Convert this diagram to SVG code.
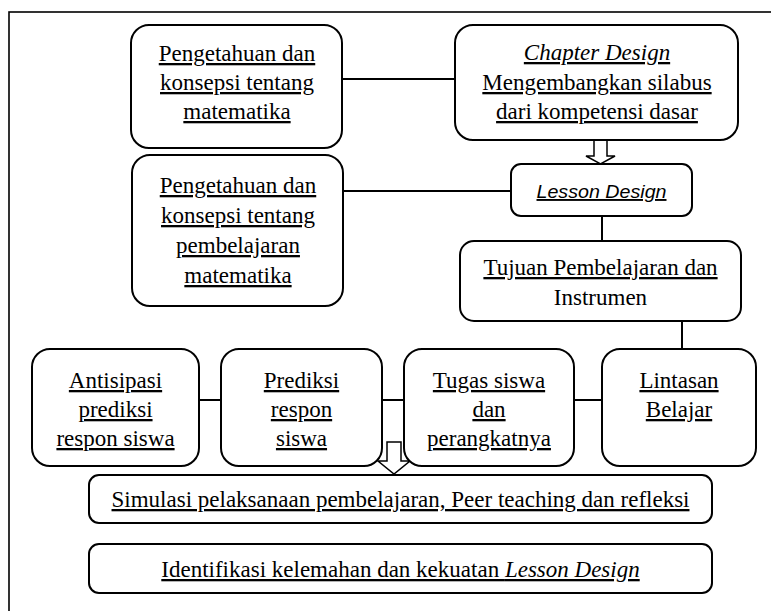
<svg xmlns="http://www.w3.org/2000/svg" width="771" height="611" viewBox="0 0 771 611">
<style>
  .box{fill:#fff;stroke:#000;stroke-width:2}
  .t{font-family:"Liberation Serif","Times New Roman",serif;font-size:23px;fill:#000;text-anchor:middle}
  .u{text-decoration:underline}
  .i{font-style:italic}
  .s{font-family:"Liberation Sans",Arial,sans-serif;font-size:19px;font-style:italic;fill:#000;text-anchor:middle;text-decoration:underline}
  .ln{stroke:#000;stroke-width:2;fill:none}
  .arr{fill:#fff;stroke:#000;stroke-width:1.5;stroke-linejoin:miter}
</style>
<rect x="9" y="12" width="800" height="700" fill="#fff" stroke="#000" stroke-width="1.6"/>
<g id="connectors">
  <line class="ln" x1="342" y1="79" x2="455" y2="79"/>
  <line class="ln" x1="343" y1="191" x2="511" y2="191"/>
  <line class="ln" x1="602" y1="216" x2="602" y2="241"/>
  <line class="ln" x1="682" y1="321" x2="682" y2="348"/>
  <line class="ln" x1="199" y1="400" x2="221" y2="400"/>
  <line class="ln" x1="382" y1="400" x2="404" y2="400"/>
  <line class="ln" x1="574" y1="400" x2="602" y2="400"/>
  <path class="arr" d="M594,140 L607,140 L607,156 L615,156 L600.5,164 L586,156 L594,156 Z"/>
  <path class="arr" d="M387,442 L401,442 L401,461 L410,461 L394,474 L378,461 L387,461 Z"/>
</g>
<g id="n1">
  <rect class="box" x="131" y="25" width="211" height="123" rx="18"/>
  <text class="t u" x="237" y="61">Pengetahuan dan</text>
  <text class="t u" x="237" y="90">konsepsi tentang</text>
  <text class="t u" x="237" y="119">matematika</text>
</g>
<g id="n2">
  <rect class="box" x="455" y="25" width="283" height="115" rx="18"/>
  <text class="t u i" x="597" y="60">Chapter Design</text>
  <text class="t u" x="597" y="90">Mengembangkan silabus</text>
  <text class="t u" x="597" y="119">dari kompetensi dasar</text>
</g>
<g id="n3">
  <rect class="box" x="132" y="155" width="211" height="151" rx="18"/>
  <text class="t u" x="238" y="193">Pengetahuan dan</text>
  <text class="t u" x="238" y="223">konsepsi tentang</text>
  <text class="t u" x="238" y="253">pembelajaran</text>
  <text class="t u" x="238" y="283">matematika</text>
</g>
<g id="n4">
  <rect class="box" x="511" y="164" width="181" height="52" rx="10"/>
  <text class="s" x="601.5" y="198" textLength="130" lengthAdjust="spacingAndGlyphs">Lesson Design</text>
</g>
<g id="n5">
  <rect class="box" x="460" y="241" width="281" height="80" rx="14"/>
  <text class="t u" x="600.5" y="275">Tujuan Pembelajaran dan</text>
  <text class="t" x="600.5" y="305">Instrumen</text>
</g>
<g id="n6">
  <rect class="box" x="32" y="349" width="167" height="117" rx="18"/>
  <text class="t u" x="115.5" y="388">Antisipasi</text>
  <text class="t u" x="115.5" y="417">prediksi</text>
  <text class="t u" x="115.5" y="446">respon siswa</text>
</g>
<g id="n7">
  <rect class="box" x="221" y="349" width="161" height="117" rx="18"/>
  <text class="t u" x="301.5" y="388">Prediksi</text>
  <text class="t u" x="301.5" y="417">respon</text>
  <text class="t u" x="301.5" y="446">siswa</text>
</g>
<g id="n8">
  <rect class="box" x="404" y="349" width="170" height="117" rx="18"/>
  <text class="t u" x="489" y="388">Tugas siswa</text>
  <text class="t u" x="489" y="417">dan</text>
  <text class="t u" x="489" y="446">perangkatnya</text>
</g>
<g id="n9">
  <rect class="box" x="602" y="349" width="154" height="117" rx="18"/>
  <text class="t u" x="679" y="388">Lintasan</text>
  <text class="t u" x="679" y="417">Belajar</text>
</g>
<g id="n10">
  <rect class="box" x="89" y="475" width="623" height="48" rx="10"/>
  <text class="t u" x="400.5" y="507">Simulasi pelaksanaan pembelajaran, Peer teaching dan refleksi</text>
</g>
<g id="n11">
  <rect class="box" x="89" y="544" width="623" height="49" rx="10"/>
  <text class="t u" x="400.5" y="577">Identifikasi kelemahan dan kekuatan <tspan class="i">Lesson Design</tspan></text>
</g>
</svg>
